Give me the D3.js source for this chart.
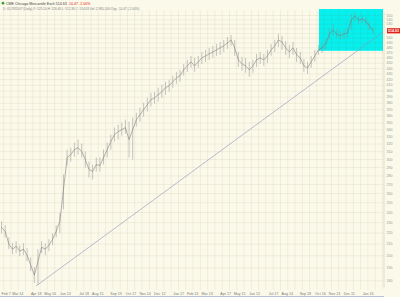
<!DOCTYPE html>
<html>
<head>
<meta charset="utf-8">
<script src="https://cdn.jsdelivr.net/npm/d3@7"></script>
<style>
  html, body { margin: 0; padding: 0; background: #fbf9ea; }
  svg { display: block; font-family: "Liberation Sans", Arial, sans-serif; }
</style>
</head>
<body>
<svg id="chart" width="400" height="297"></svg>
<script>
// weekly bars, Feb 2005 - Jan 2007 (Friday of each week)
const weeks = [
  "2005-02-04","2005-02-11","2005-02-18","2005-02-25","2005-03-04","2005-03-11","2005-03-18","2005-03-25",
  "2005-04-01","2005-04-08","2005-04-15","2005-04-22","2005-04-29","2005-05-06","2005-05-13","2005-05-20",
  "2005-05-27","2005-06-03","2005-06-10","2005-06-17","2005-06-24","2005-07-01","2005-07-08","2005-07-15",
  "2005-07-22","2005-07-29","2005-08-05","2005-08-12","2005-08-19","2005-08-26","2005-09-02","2005-09-09",
  "2005-09-16","2005-09-23","2005-09-30","2005-10-07","2005-10-14","2005-10-21","2005-10-28","2005-11-04",
  "2005-11-11","2005-11-18","2005-11-25","2005-12-02","2005-12-09","2005-12-16","2005-12-23","2005-12-30",
  "2006-01-06","2006-01-13","2006-01-20","2006-01-27","2006-02-03","2006-02-10","2006-02-17","2006-02-24",
  "2006-03-03","2006-03-10","2006-03-17","2006-03-24","2006-03-31","2006-04-07","2006-04-14","2006-04-21",
  "2006-04-28","2006-05-05","2006-05-12","2006-05-19","2006-05-26","2006-06-02","2006-06-09","2006-06-16",
  "2006-06-23","2006-06-30","2006-07-07","2006-07-14","2006-07-21","2006-07-28","2006-08-04","2006-08-11",
  "2006-08-18","2006-08-25","2006-09-01","2006-09-08","2006-09-15","2006-09-22","2006-09-29","2006-10-06",
  "2006-10-13","2006-10-20","2006-10-27","2006-11-03","2006-11-10","2006-11-17","2006-11-24","2006-12-01",
  "2006-12-08","2006-12-15","2006-12-22","2006-12-29","2007-01-05","2007-01-12","2007-01-19"
];
const closes = [
  225.0,221.2,209.5,205.2,207.8,203.5,205.2,200.1,191.9,184.0,195.1,206.9,205.2,208.6,213.9,221.2,
  230.7,263.9,301.8,305.6,312.1,314.7,309.5,299.3,287.0,284.6,293.0,291.8,301.8,312.1,322.8,332.4,
  336.6,339.4,342.3,325.5,339.4,354.0,361.5,369.2,377.0,385.0,388.2,393.2,398.1,404.9,408.3,415.2,
  422.2,425.8,436.6,444.0,451.5,444.0,451.5,459.2,463.0,466.9,470.9,474.9,478.9,482.9,489.0,495.2,
  478.9,455.3,447.7,444.0,436.6,444.0,455.3,459.2,455.3,463.0,474.9,482.9,495.2,491.1,478.9,470.9,
  478.9,465.0,459.2,444.0,440.3,451.5,463.0,474.9,478.9,487.0,507.8,516.4,507.8,503.6,507.8,510.0,
  538.6,547.7,538.6,540.8,536.3,525.2,514.63
];
const highs = [
  230.7,226.9,215.7,210.4,212.2,208.6,210.4,206.0,198.4,190.3,205.2,212.2,210.4,213.9,219.4,226.9,
  238.6,281.0,312.1,314.7,321.4,325.5,320.1,309.5,296.8,293.0,301.8,301.8,312.1,321.4,332.4,342.3,
  346.6,349.5,354.0,351.0,357.0,364.5,372.3,380.2,388.2,396.5,398.1,404.9,410.0,415.2,418.7,425.8,
  433.0,436.6,447.7,455.3,463.0,459.2,463.0,470.9,474.9,478.9,482.9,487.0,491.1,495.2,501.5,505.7,
  495.2,470.9,461.1,459.2,451.5,455.3,466.9,470.9,466.9,474.9,487.0,495.2,507.8,503.6,493.1,485.0,
  491.1,478.9,470.9,457.2,451.5,463.0,474.9,485.0,489.0,497.3,520.8,529.6,518.6,514.2,516.4,520.8,
  552.3,557.0,547.7,550.0,545.4,534.1,523.0
];
const lows = [
  219.4,215.7,205.2,201.0,201.8,199.3,200.1,195.1,187.1,178.0,176.5,201.8,200.1,203.5,208.6,215.7,
  219.4,242.7,291.8,296.8,303.0,305.6,301.8,289.4,277.5,275.2,284.6,284.6,293.0,301.8,312.1,322.8,
  325.5,331.0,333.8,301.8,299.3,343.7,351.0,358.5,366.1,373.8,378.6,381.8,388.2,393.2,398.1,404.9,
  411.7,415.2,425.8,433.0,440.3,433.0,440.3,447.7,451.5,455.3,459.2,463.0,465.0,470.9,476.9,482.9,
  463.0,442.2,434.8,431.2,424.0,431.2,442.2,447.7,444.0,449.6,463.0,470.9,480.9,474.9,465.0,459.2,
  465.0,451.5,447.7,433.0,429.4,440.3,451.5,465.0,468.9,474.9,495.2,503.6,499.4,495.2,497.3,499.4,
  516.4,534.1,529.6,531.8,527.4,516.4,507.8
];

// right axis ticks
const priceTicks = [180,190,200,210,220,230,240,250,260,270,280,290,300,310,320,330,340,350,360,370,
  380,390,400,410,420,430,440,450,460,470,480,490,500,510,520,530,540,550];

// bottom axis
const dateTicks = ["2005-02-07","2005-03-14","2005-04-18","2005-05-16","2005-06-13","2005-07-18","2005-08-15",
  "2005-09-19","2005-10-17","2005-11-14","2005-12-12","2006-01-17","2006-02-13","2006-03-13","2006-04-17",
  "2006-05-15","2006-06-12","2006-07-17","2006-08-14","2006-09-18","2006-10-16","2006-11-13","2006-12-11","2007-01-16"];
const dateLabels = ["Feb 7","Mar 14","Apr 18","May 16","Jun 13","Jul 18","Aug 15","Sep 19","Oct 17","Nov 14",
  "Dec 12","Jan 17","Feb 13","Mar 13","Apr 17","May 15","Jun 12","Jul 17","Aug 14","Sep 18","Oct 16",
  "Nov 13","Dec 11","Jan 16"];

// drawn trendline and highlight box
const trendDates = ["2005-04-11","2007-02-07"];
const trendPrices = [175.7, 512.0];
const boxDates = ["2006-10-07","2007-02-07"];
const boxPrices = [473, 564];

const symbolName = "CME Chicago Mercantile Exch";
const lastPrice = "514.63";
const change = "-10.47";
const changePct = "-2.00%";
const infoLine = "D: 01/19/2007 (Daily) O: 525.10 H: 526.40 L: 512.30 C: 514.63 Vol: 2,965,100 Chg: -10.47 (-2.00%)";

const W = 400, H = 297;
const parse = d3.timeParse("%Y-%m-%d");
const svg = d3.select("#chart");

const x = d3.scaleTime()
  .domain([parse("2005-02-01"), parse("2007-02-07")])
  .range([0, 383]);
const y = d3.scaleLog()
  .domain([175, 557])
  .range([287, 12]);

svg.append("rect").attr("width", W).attr("height", H).attr("fill", "#fbf9ea");

// cyan highlight
svg.append("rect")
  .attr("x", x(parse(boxDates[0])))
  .attr("width", x(parse(boxDates[1])) - x(parse(boxDates[0])))
  .attr("y", y(boxPrices[1]))
  .attr("height", y(boxPrices[0]) - y(boxPrices[1]))
  .attr("fill", "#08f0ee");

// horizontal grid
svg.append("g")
  .attr("transform", "translate(383,0)")
  .call(d3.axisLeft(y).tickValues(priceTicks).tickSize(383).tickFormat(""))
  .call(g => g.select(".domain").remove())
  .selectAll("line")
    .attr("stroke", "rgba(110,100,50,0.16)")
    .attr("stroke-width", 0.5);

// vertical grid
const gridDates = d3.timeMonday.every(2).range(x.domain()[0], x.domain()[1]);
svg.append("g")
  .attr("transform", "translate(0,290)")
  .call(d3.axisTop(x).tickValues(gridDates).tickSize(280).tickFormat(""))
  .call(g => g.select(".domain").remove())
  .selectAll("line")
    .attr("stroke", "rgba(110,100,50,0.16)")
    .attr("stroke-width", 0.5);

// trendline
svg.append("line")
  .attr("x1", x(parse(trendDates[0]))).attr("y1", y(trendPrices[0]))
  .attr("x2", x(parse(trendDates[1]))).attr("y2", y(trendPrices[1]))
  .attr("stroke", "#9090b8")
  .attr("stroke-width", 0.6);

// price bars
const dates = weeks.map(parse);
svg.append("g")
  .selectAll("line")
  .data(weeks)
  .join("line")
    .attr("x1", (d, i) => x(dates[i]))
    .attr("x2", (d, i) => x(dates[i]))
    .attr("y1", (d, i) => y(highs[i]))
    .attr("y2", (d, i) => y(lows[i]))
    .attr("stroke", "#8e8e8e")
    .attr("stroke-width", 0.5);

svg.append("path")
  .datum(closes)
  .attr("fill", "none")
  .attr("stroke", "#787878")
  .attr("stroke-width", 0.55)
  .attr("d", d3.line().x((d, i) => x(dates[i])).y(d => y(d)));

// right axis
const yl = y(+lastPrice);
const yAxis = svg.append("g")
  .attr("transform", "translate(383.5,0)")
  .call(d3.axisRight(y).tickValues(priceTicks).tickSize(0).tickPadding(3).tickFormat(d3.format("d")));
yAxis.select(".domain").attr("stroke", "#d2cdb2").attr("stroke-width", 0.6);
yAxis.selectAll("text")
  .attr("font-size", 3.6)
  .attr("font-family", "Liberation Sans, Arial, sans-serif")
  .attr("fill", "#9a9a9a");
// labels hidden behind the last-price tag
yAxis.selectAll(".tick").filter(d => Math.abs(y(d) - yl) < 4.5).remove();

// last price tag
svg.append("rect")
  .attr("x", 387).attr("y", yl - 2.6)
  .attr("width", 13).attr("height", 5.2)
  .attr("fill", "#e02018");
svg.append("text")
  .attr("x", 393.5).attr("y", yl + 1.3)
  .attr("text-anchor", "middle")
  .attr("font-size", 3.6)
  .attr("font-weight", "bold")
  .attr("fill", "#fff")
  .text(lastPrice);

// bottom labels
const xl = svg.append("g");
dateTicks.forEach((d, i) => {
  const t = xl.append("text")
    .attr("x", x(parse(d)) + 2)
    .attr("y", 294.5)
    .attr("text-anchor", "end")
    .attr("font-size", 3.6)
    .attr("fill", "#7a7a7a")
    .text(dateLabels[i]);
  const w = t.node().getComputedTextLength();
  if (x(parse(d)) + 2 - w < 1) t.attr("x", 1.5).attr("text-anchor", "start");
});

svg.append("rect")
  .attr("x", 0).attr("y", 296)
  .attr("width", 384).attr("height", 1)
  .attr("fill", "#b9c3d8");

// header
svg.append("circle").attr("cx", 3).attr("cy", 3.2).attr("r", 1.4).attr("fill", "#3aa03a");
const head = svg.append("text").attr("x", 6).attr("y", 4.6).attr("font-size", 3.6).attr("fill", "#444");
head.append("tspan").text(symbolName + " ");
head.append("tspan").text(lastPrice + "  ");
head.append("tspan").attr("fill", "#e02018").text(change + "   ");
head.append("tspan").attr("fill", "#e02018").text(changePct);

svg.append("text")
  .attr("x", 3).attr("y", 9.6)
  .attr("font-size", 3.1)
  .attr("fill", "#808080")
  .text(infoLine);
</script>
</body>
</html>
